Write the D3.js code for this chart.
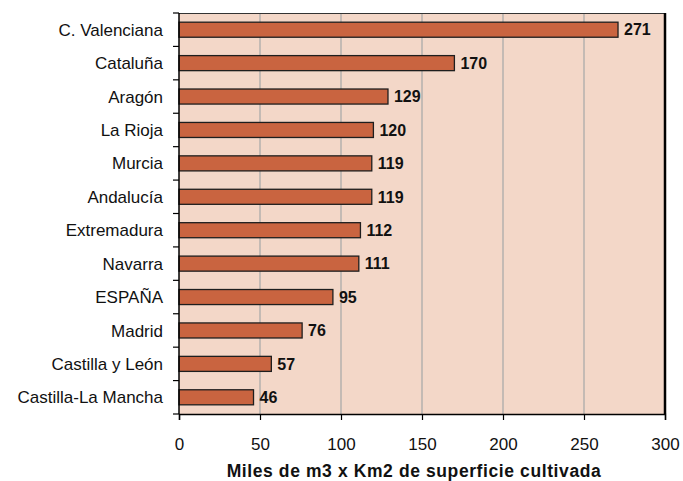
<!DOCTYPE html>
<html>
<head>
<meta charset="utf-8">
<script src="https://cdn.jsdelivr.net/npm/d3@7"></script>
<style>
  body { margin: 0; background: #fff; }
  text { font-family: "Liberation Sans", Arial, sans-serif; }
</style>
</head>
<body>
<div id="chart-area"></div>
<script>
var regions = ['C. Valenciana', 'Cataluña', 'Aragón', 'La Rioja', 'Murcia', 'Andalucía',
               'Extremadura', 'Navarra', 'ESPAÑA', 'Madrid', 'Castilla y León', 'Castilla-La Mancha'];
var values = [271, 170, 129, 120, 119, 119, 112, 111, 95, 76, 57, 46];
var xTicks = [0, 50, 100, 150, 200, 250, 300];
var xTitle = 'Miles de m3 x Km2 de superficie cultivada';

var data = regions.map((r, i) => ({ region: r, value: values[i] }));

var margin = { top: 13, left: 179, bottom: 67, right: 18 };
var width = 683 - margin.left - margin.right;
var height = 481 - margin.top - margin.bottom;

var svg = d3.select('#chart-area').append('svg')
    .attr('width', 683)
    .attr('height', 481);

var g = svg.append('g').attr('transform', `translate(${margin.left}, ${margin.top})`);

var x = d3.scaleLinear().domain([0, 300]).range([0, width]);
var y = d3.scaleBand().domain(regions).range([0, height]).paddingInner(0.55).paddingOuter(0.275);

// plot background
g.append('rect')
    .attr('x', 0).attr('y', 0)
    .attr('width', width).attr('height', height)
    .attr('fill', '#f3d7c8');

// gridlines
g.selectAll('.grid').data(xTicks.filter(d => d > 0 && d < 300))
  .enter().append('line')
    .attr('class', 'grid')
    .attr('x1', d => x(d)).attr('x2', d => x(d))
    .attr('y1', 0).attr('y2', height)
    .attr('stroke', '#b4b0ae')
    .attr('stroke-width', 1.5);

// top and right border
g.append('line').attr('x1', 0).attr('x2', width).attr('y1', 0.5).attr('y2', 0.5)
    .attr('stroke', '#333').attr('stroke-width', 1.2);
g.append('line').attr('x1', width).attr('x2', width).attr('y1', 0).attr('y2', height)
    .attr('stroke', '#000').attr('stroke-width', 2.5);

// bars
g.selectAll('.bar').data(data)
  .enter().append('rect')
    .attr('class', 'bar')
    .attr('x', x(0))
    .attr('y', d => y(d.region))
    .attr('width', d => x(d.value) - x(0))
    .attr('height', y.bandwidth())
    .attr('fill', '#c96440')
    .attr('stroke', '#1e1e1e')
    .attr('stroke-width', 1.3);

// value labels
g.selectAll('.val').data(data)
  .enter().append('text')
    .attr('class', 'val')
    .attr('x', d => x(d.value) + 6)
    .attr('y', d => y(d.region) + y.bandwidth() / 2)
    .attr('dy', '0.36em')
    .attr('font-size', '16px')
    .attr('font-weight', 'bold')
    .attr('fill', '#111')
    .text(d => d.value);

// y axis: ticks at band boundaries
var yAxis = g.append('g').attr('class', 'y-axis');
yAxis.append('line').attr('x1', 0).attr('x2', 0).attr('y1', 0).attr('y2', height)
    .attr('stroke', '#000').attr('stroke-width', 1.5);
var step = y.step();
yAxis.selectAll('.ytick').data(d3.range(regions.length + 1))
  .enter().append('line')
    .attr('x1', -6).attr('x2', 0)
    .attr('y1', i => Math.min(i * step, height)).attr('y2', i => Math.min(i * step, height))
    .attr('stroke', '#000').attr('stroke-width', 1.2);
yAxis.selectAll('.ylab').data(regions)
  .enter().append('text')
    .attr('x', -16)
    .attr('y', d => y(d) + y.bandwidth() / 2)
    .attr('dy', '0.36em')
    .attr('text-anchor', 'end')
    .attr('font-size', '17px')
    .attr('fill', '#111')
    .text(d => d);

// x axis
var xAxisGroup = g.append('g').attr('class', 'x-axis').attr('transform', `translate(0, ${height})`);
xAxisGroup.call(d3.axisBottom(x).tickValues(xTicks).tickSize(6).tickPadding(18));
xAxisGroup.select('.domain').attr('stroke', '#000').attr('stroke-width', 1.5);
xAxisGroup.selectAll('line').attr('stroke', '#000').attr('stroke-width', 1.2);
xAxisGroup.selectAll('text')
    .attr('font-family', '"Liberation Sans", Arial, sans-serif')
    .attr('font-size', '17px')
    .attr('fill', '#111');

g.append('text')
    .attr('x', 235)
    .attr('y', height + 63)
    .attr('text-anchor', 'middle')
    .attr('font-size', '17.5px')
    .attr('letter-spacing', '0.6px')
    .attr('font-weight', 'bold')
    .attr('fill', '#111')
    .text(xTitle);
</script>
</body>
</html>
